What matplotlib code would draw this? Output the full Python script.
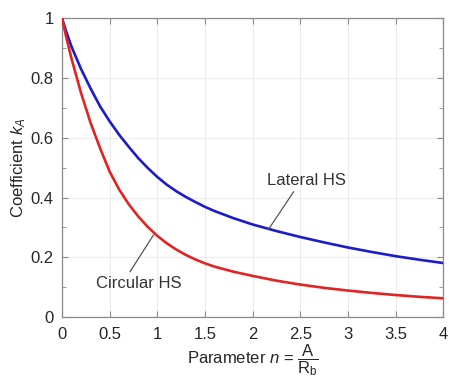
import matplotlib
matplotlib.use("Agg")
import matplotlib.pyplot as plt
from matplotlib.ticker import MultipleLocator

plt.rcParams['font.family'] = ['Liberation Sans', 'DejaVu Sans']
plt.rcParams['mathtext.fontset'] = 'custom'
plt.rcParams['mathtext.rm'] = 'Liberation Sans'
plt.rcParams['mathtext.it'] = 'Liberation Sans:italic'
plt.rcParams['mathtext.bf'] = 'Liberation Sans:bold'

# Data
n_lateral = [0, 0.05, 0.1, 0.2, 0.3, 0.4, 0.5, 0.6, 0.7, 0.8, 0.9, 1.0, 1.1, 1.2, 1.3, 1.4,
             1.5, 1.6, 1.8, 2.0, 2.25, 2.5, 2.75, 3.0, 3.25, 3.5, 3.75, 4.0]
k_lateral = [1.0, 0.95, 0.905, 0.83, 0.765, 0.705, 0.655, 0.61, 0.57, 0.532, 0.499, 0.469, 0.443,
             0.421, 0.402, 0.385, 0.369, 0.355, 0.331, 0.310, 0.288, 0.268, 0.25, 0.233, 0.218,
             0.204, 0.192, 0.181]
n_circular = [0, 0.05, 0.1, 0.2, 0.3, 0.4, 0.5, 0.6, 0.7, 0.8, 0.9, 1.0, 1.1, 1.2, 1.3, 1.4,
              1.5, 1.6, 1.8, 2.0, 2.25, 2.5, 2.75, 3.0, 3.25, 3.5, 3.75, 4.0]
k_circular = [1.0, 0.93, 0.865, 0.75, 0.65, 0.565, 0.487, 0.427, 0.378, 0.337, 0.302, 0.272, 0.247,
              0.226, 0.208, 0.193, 0.18, 0.169, 0.152, 0.138, 0.122, 0.109, 0.098, 0.089, 0.081,
              0.074, 0.068, 0.063]

x_ticks = [0, 0.5, 1, 1.5, 2, 2.5, 3, 3.5, 4]
x_tick_labels = ["0", "0.5", "1", "1.5", "2", "2.5", "3", "3.5", "4"]
y_ticks = [0, 0.2, 0.4, 0.6, 0.8, 1.0]
y_tick_labels = ["0", "0.2", "0.4", "0.6", "0.8", "1"]

fig = plt.figure(figsize=(4.49, 3.78), dpi=100)
ax = fig.add_axes([0.138, 0.161, 0.849, 0.791])

ax.plot(n_lateral, k_lateral, color='#1c1cc8', lw=1.9, solid_capstyle='round',
        solid_joinstyle='round', zorder=3)
ax.plot(n_circular, k_circular, color='#e02424', lw=1.9, solid_capstyle='round',
        solid_joinstyle='round', zorder=3)

ax.set_xlim(0, 4)
ax.set_ylim(0, 1)
ax.set_xticks(x_ticks)
ax.set_xticklabels(x_tick_labels)
ax.set_yticks(y_ticks)
ax.set_yticklabels(y_tick_labels)
ax.yaxis.set_minor_locator(MultipleLocator(0.1))

ax.grid(True, which='major', color='#ececec', lw=0.8, zorder=0)
for s in ax.spines.values():
    s.set_color('#8a8a8a')
    s.set_linewidth(0.9)
ax.tick_params(which='both', direction='in', top=True, right=True,
               colors='#8a8a8a', labelcolor='#262626', labelsize=12)
ax.tick_params(which='major', length=4)
ax.tick_params(which='minor', length=3)
ax.tick_params(axis='x', pad=7)
ax.tick_params(axis='y', pad=6)

ax.set_ylabel(r"Coefficient $k_A$", fontsize=12, color='#262626', labelpad=2)
ax.set_xlabel(r"Parameter $n$ = $\dfrac{\mathrm{A}}{\mathrm{R_b}}$", fontsize=12,
              color='#262626', labelpad=0)

ax.text(2.57, 0.458, "Lateral HS", fontsize=12, color='#333333', ha='center', va='center')
ax.plot([2.43, 2.166], [0.419, 0.293], color='#555555', lw=0.9, zorder=4)
ax.text(0.81, 0.114, "Circular HS", fontsize=12, color='#333333', ha='center', va='center')
ax.plot([0.714, 0.959], [0.152, 0.274], color='#555555', lw=0.9, zorder=4)

fig.savefig("out.png", dpi=100)
